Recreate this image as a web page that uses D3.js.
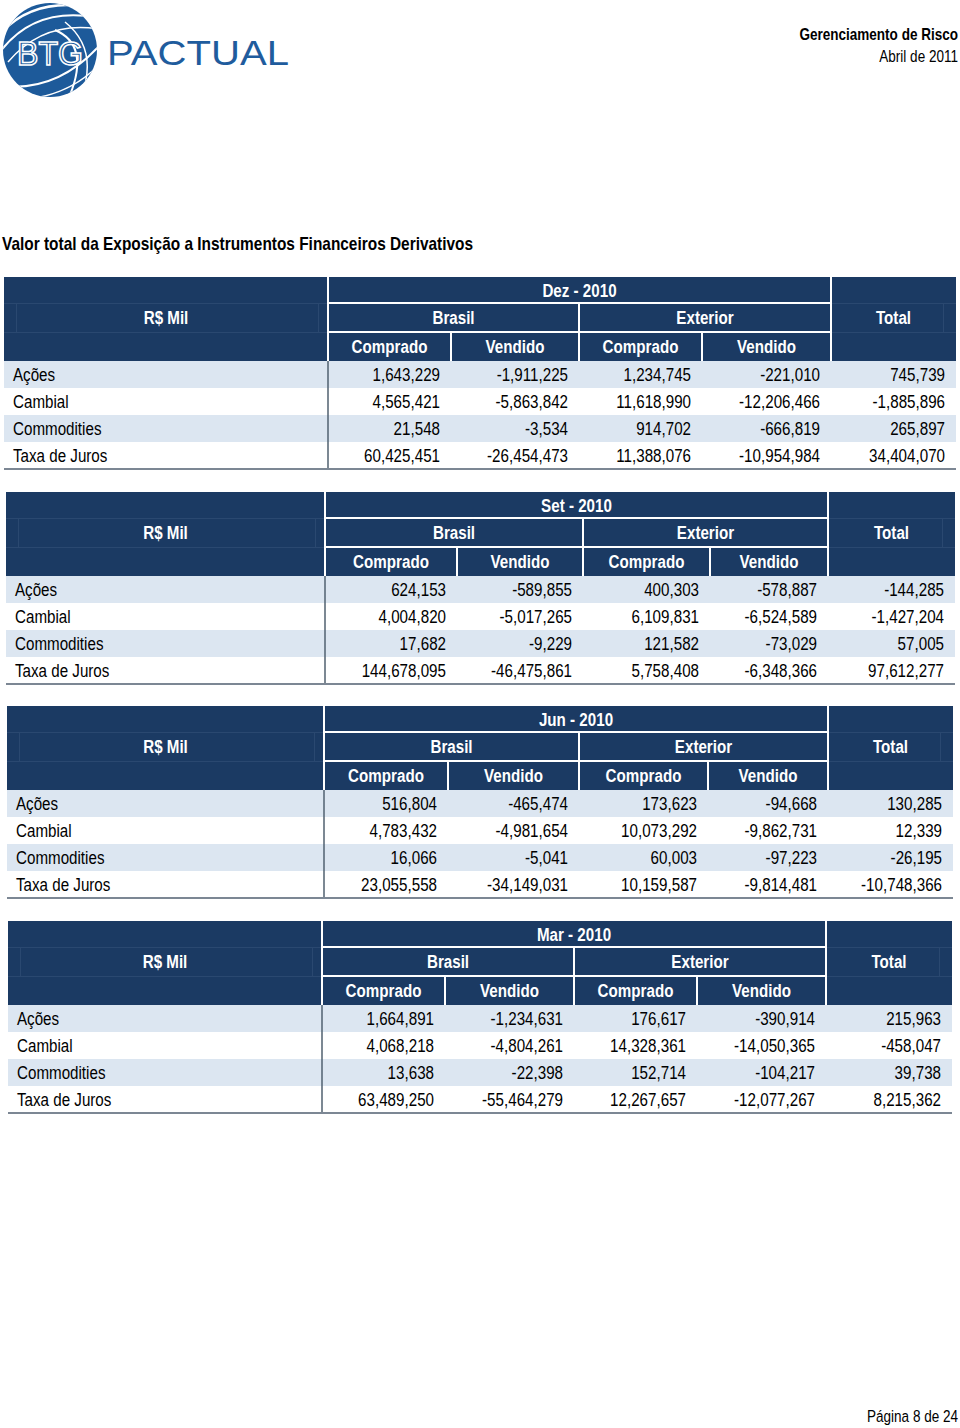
<!DOCTYPE html>
<html>
<head>
<meta charset="utf-8">
<script src="https://cdn.jsdelivr.net/npm/d3@7"></script>
<style>
  body { margin: 0; background: #fff; }
  svg { display: block; }
  text { font-family: "Liberation Sans", Arial, sans-serif; }
</style>
</head>
<body>
<div id="chart"></div>
<script>
// ---- data ----
const title = "Valor total da Exposição a Instrumentos Financeiros Derivativos"
const periods = ["Dez - 2010", "Set - 2010", "Jun - 2010", "Mar - 2010"]
const categories = ["Ações", "Cambial", "Commodities", "Taxa de Juros"]
const regions = ["Brasil", "Exterior"]
const sides = ["Comprado", "Vendido"]
const unitLabel = "R$ Mil"
const totalLabel = "Total"

// columns: Brasil comprado, Brasil vendido, Exterior comprado, Exterior vendido, Total
const dez2010 = [
    [1643229, -1911225, 1234745, -221010, 745739],
    [4565421, -5863842, 11618990, -12206466, -1885896],
    [21548, -3534, 914702, -666819, 265897],
    [60425451, -26454473, 11388076, -10954984, 34404070]
]
const set2010 = [
    [624153, -589855, 400303, -578887, -144285],
    [4004820, -5017265, 6109831, -6524589, -1427204],
    [17682, -9229, 121582, -73029, 57005],
    [144678095, -46475861, 5758408, -6348366, 97612277]
]
const jun2010 = [
    [516804, -465474, 173623, -94668, 130285],
    [4783432, -4981654, 10073292, -9862731, 12339],
    [16066, -5041, 60003, -97223, -26195],
    [23055558, -34149031, 10159587, -9814481, -10748366]
]
const mar2010 = [
    [1664891, -1234631, 176617, -390914, 215963],
    [4068218, -4804261, 14328361, -14050365, -458047],
    [13638, -22398, 152714, -104217, 39738],
    [63489250, -55464279, 12267657, -12077267, 8215362]
]
const tableValues = [dez2010, set2010, jun2010, mar2010]

// ---- layout (each table on the scan sits slightly differently) ----
const layouts = [
    { top: 277, edges: [4, 328, 451, 579, 702, 831, 956] },
    { top: 492, edges: [6, 325, 457, 583, 710, 828, 955] },
    { top: 706, edges: [7, 324, 448, 579, 708, 828, 953] },
    { top: 921, edges: [8, 322, 445, 574, 697, 826, 952] }
]
const headerRows = [26, 29, 29]
const rowHeight = 27
const squeeze = 0.82 // arial narrow look: squash liberation sans horizontally

const navy = "#1b3a63"
const stripe = "#dce6f1"
const fmt = v => d3.format(",")(v).replace("−", "-")

const width = 960, height = 1428

const svg = d3.select("#chart")
    .append("svg")
    .attr("width", width)
    .attr("height", height)

// narrow text helper
function narrowText(parent, x, y, str, size, bold, anchor) {
    return parent.append("text")
        .attr("transform", "translate(" + x + "," + y + ") scale(" + squeeze + ",1)")
        .attr("text-anchor", anchor || "start")
        .style("font-size", size + "px")
        .style("font-weight", bold ? "bold" : "normal")
        .text(str)
}

// ---- page header: logo ----
const logo = svg.append("g")
const clip = logo.append("clipPath").attr("id", "logo-clip")
clip.append("circle").attr("cx", 50).attr("cy", 50).attr("r", 47)

logo.append("circle")
    .attr("cx", 50).attr("cy", 50).attr("r", 47)
    .attr("fill", "#1d5a9a")

const swoosh = logo.append("g").attr("clip-path", "url(#logo-clip)")
    .attr("fill", "none").attr("stroke", "#fff")
const swooshPaths = [
    ["M-5,40 Q30,-5 95,8", 2.5],
    ["M0,52 Q35,5 100,18", 2],
    ["M8,62 Q45,18 105,30", 1.5],
    ["M-5,85 Q55,95 100,45", 2],
    ["M10,100 Q70,100 105,58", 1.5],
    ["M55,30 Q90,45 70,95", 2],
    ["M65,22 Q100,50 80,100", 1.5]
]
swooshPaths.forEach(p => {
    swoosh.append("path").attr("d", p[0]).attr("stroke-width", p[1])
})

logo.append("text")
    .attr("x", 50).attr("y", 65)
    .attr("text-anchor", "middle")
    .style("font-size", "34px")
    .attr("textLength", 66)
    .attr("lengthAdjust", "spacingAndGlyphs")
    .attr("fill", "#1d5a9a")
    .attr("stroke", "#fff")
    .attr("stroke-width", 1.6)
    .text("BTG")

logo.append("text")
    .attr("x", 107).attr("y", 65)
    .style("font-size", "35px")
    .attr("textLength", 182)
    .attr("lengthAdjust", "spacingAndGlyphs")
    .attr("fill", "#1f5c9d")
    .text("PACTUAL")

// ---- page header / footer text ----
narrowText(svg, 958, 40, "Gerenciamento de Risco", 16.5, true, "end")
narrowText(svg, 958, 62, "Abril de 2011", 16.5, false, "end")
narrowText(svg, 2, 250, title, 18.8, true)
narrowText(svg, 958, 1422, "Página 8 de 24", 16.5, false, "end")

// ---- tables ----
function drawTable(period, values, layout) {
    const e = layout.edges
    const left = e[0], right = e[6]
    const y0 = layout.top
    const y1 = y0 + headerRows[0]
    const y2 = y1 + headerRows[1]
    const y3 = y2 + headerRows[2]

    const yScale = d3.scaleBand()
        .domain(categories)
        .range([y3, y3 + rowHeight * categories.length])

    // value columns: left/right edges
    const colLeft = d3.scaleOrdinal().domain(d3.range(5)).range([e[1], e[2], e[3], e[4], e[5]])
    const colRight = d3.scaleOrdinal().domain(d3.range(5)).range([e[2], e[3], e[4], e[5], e[6]])

    const g = svg.append("g")

    // header block
    g.append("rect")
        .attr("x", left).attr("y", y0)
        .attr("width", right - left).attr("height", y3 - y0)
        .attr("fill", navy)

    // faint grid lines inside the header (left over from the spreadsheet)
    const faint = g.append("g").attr("stroke", "#2a4870").attr("stroke-width", 1)
    faint.append("line").attr("x1", left).attr("x2", e[1]).attr("y1", y1 + 0.5).attr("y2", y1 + 0.5)
    faint.append("line").attr("x1", left).attr("x2", e[1]).attr("y1", y2 + 0.5).attr("y2", y2 + 0.5)
    faint.append("line").attr("x1", left + 12.5).attr("x2", left + 12.5).attr("y1", y1).attr("y2", y2)
    faint.append("line").attr("x1", e[1] - 9.5).attr("x2", e[1] - 9.5).attr("y1", y1).attr("y2", y2)
    faint.append("line").attr("x1", e[5]).attr("x2", right).attr("y1", y1 + 0.5).attr("y2", y1 + 0.5)
    faint.append("line").attr("x1", e[5]).attr("x2", right).attr("y1", y2 + 0.5).attr("y2", y2 + 0.5)
    faint.append("line").attr("x1", right - 12.5).attr("x2", right - 12.5).attr("y1", y1).attr("y2", y2)

    // white separators
    const white = g.append("g").attr("stroke", "#fff").attr("stroke-width", 2)
    white.append("line").attr("x1", e[1]).attr("x2", e[1]).attr("y1", y0).attr("y2", y3)
    white.append("line").attr("x1", e[5]).attr("x2", e[5]).attr("y1", y0).attr("y2", y3)
    white.append("line").attr("x1", e[1]).attr("x2", e[5]).attr("y1", y1).attr("y2", y1)
    white.append("line").attr("x1", e[1]).attr("x2", e[5]).attr("y1", y2).attr("y2", y2)
    white.append("line").attr("x1", e[3]).attr("x2", e[3]).attr("y1", y1).attr("y2", y3)
    white.append("line").attr("x1", e[2]).attr("x2", e[2]).attr("y1", y2).attr("y2", y3)
    white.append("line").attr("x1", e[4]).attr("x2", e[4]).attr("y1", y2).attr("y2", y3)

    const headText = (x, y, t) => narrowText(g, x, y, t, 18.5, true, "middle")
        .attr("dy", "0.36em")
        .attr("fill", "#fff")

    headText((left + e[1]) / 2, (y1 + y2) / 2, unitLabel)
    headText((e[1] + e[5]) / 2, (y0 + y1) / 2, period)
    headText((e[1] + e[3]) / 2, (y1 + y2) / 2, regions[0])
    headText((e[3] + e[5]) / 2, (y1 + y2) / 2, regions[1])
    headText((e[5] + right) / 2, (y1 + y2) / 2, totalLabel)
    d3.range(4).forEach(i => {
        headText((colLeft(i) + colRight(i)) / 2, (y2 + y3) / 2, sides[i % 2])
    })

    // body rows
    const rows = g.selectAll(".row")
        .data(categories.map((c, i) => ({ cat: c, i: i, vals: values[i] })))
        .join("g")
        .attr("class", "row")

    rows.append("rect")
        .attr("x", left)
        .attr("y", d => yScale(d.cat))
        .attr("width", right - left)
        .attr("height", yScale.bandwidth())
        .attr("fill", d => d.i % 2 === 0 ? stripe : "#fff")

    const midY = cat => yScale(cat) + yScale.bandwidth() / 2

    rows.append("text")
        .attr("transform", d => "translate(" + (left + 9) + "," + midY(d.cat) + ") scale(" + squeeze + ",1)")
        .attr("dy", "0.36em")
        .style("font-size", "18.5px")
        .attr("fill", "#000")
        .text(d => d.cat)

    rows.selectAll(".val")
        .data(d => d.vals.map((v, j) => ({ v: v, j: j, cat: d.cat })))
        .join("text")
        .attr("class", "val")
        .attr("transform", d => "translate(" + (colRight(d.j) - 11) + "," + midY(d.cat) + ") scale(" + squeeze + ",1)")
        .attr("dy", "0.36em")
        .attr("text-anchor", "end")
        .style("font-size", "18.5px")
        .attr("fill", "#000")
        .text(d => fmt(d.v))

    const bottom = yScale.range()[1]
    g.append("line")
        .attr("x1", e[1]).attr("x2", e[1])
        .attr("y1", y3).attr("y2", bottom)
        .attr("stroke", "#51606f").attr("stroke-width", 1.5)

    g.append("line")
        .attr("x1", left).attr("x2", right)
        .attr("y1", bottom).attr("y2", bottom)
        .attr("stroke", "#7c8794").attr("stroke-width", 2)
}

periods.forEach((p, i) => drawTable(p, tableValues[i], layouts[i]))
</script>
</body>
</html>
